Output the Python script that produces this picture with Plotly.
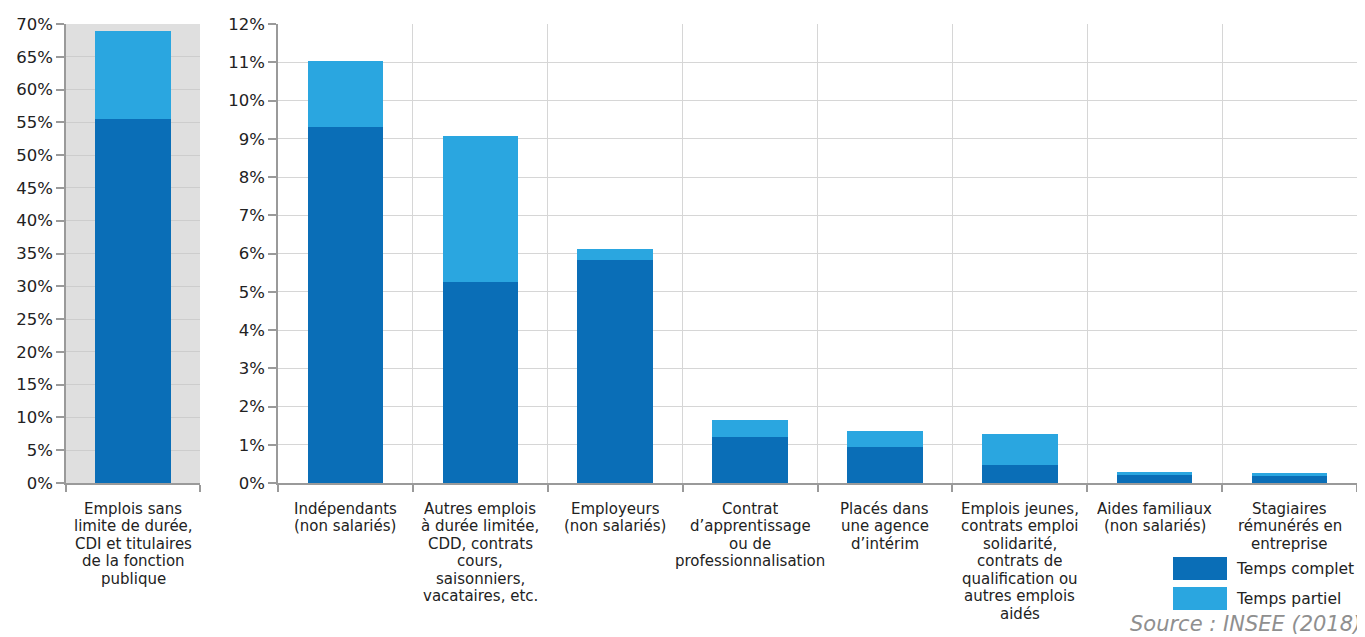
import plotly.graph_objects as go

# ---------------- data (values in %) ----------------
left_categories = ["Emplois sans<br>limite de durée,<br>CDI et titulaires<br>de la fonction<br>publique"]
left_complet = [55.5]
left_partiel = [13.5]

right_categories = [
    "Indépendants<br>(non salariés)",
    "Autres emplois<br>à durée limitée,<br>CDD, contrats<br>cours,<br>saisonniers,<br>vacataires, etc.",
    "Employeurs<br>(non salariés)",
    "Contrat<br>d’apprentissage<br>ou de<br>professionnalisation",
    "Placés dans<br>une agence<br>d’intérim",
    "Emplois jeunes,<br>contrats emploi<br>solidarité,<br>contrats de<br>qualification ou<br>autres emplois<br>aidés",
    "Aides familiaux<br>(non salariés)",
    "Stagiaires<br>rémunérés en<br>entreprise",
]
right_complet = [9.30, 5.26, 5.83, 1.21, 0.95, 0.47, 0.20, 0.19]
right_partiel = [1.74, 3.82, 0.30, 0.44, 0.41, 0.81, 0.08, 0.06]

left_ticks = list(range(0, 71, 5))
right_ticks = list(range(0, 13, 1))
left_ticktext = [f"{v}%" for v in left_ticks]
right_ticktext = [f"{v}%" for v in right_ticks]

series_names = ["Temps complet", "Temps partiel"]
source_text = "Source : INSEE (2018)"

# ---------------- style ----------------
DARK = "#0a6eb7"
LIGHT = "#2aa6e0"
TXT = "#222222"
AXIS = "#9a9a9a"
GRID = "#d6d6d6"
FONT = "DejaVu Sans, Liberation Sans, sans-serif"
OFF = 8                      # page body margin of the viewer
W, H = 1365 - OFF, 637 - OFF


def px(v):
    return v - OFF


TOP_PX, BOT_PX = px(24), px(483)
LEFT_X = (px(66), px(200))
RIGHT_X = (px(278), px(1357))
LINE_H = 17.5

ydom = [(H - BOT_PX) / H, (H - TOP_PX) / H]

fig = go.Figure()
fig.add_trace(go.Bar(x=left_categories, y=left_complet, name=series_names[0], marker_color=DARK,
                     marker_line_width=0, width=0.56, xaxis="x", yaxis="y", showlegend=False))
fig.add_trace(go.Bar(x=left_categories, y=left_partiel, name=series_names[1], marker_color=LIGHT,
                     marker_line_width=0, width=0.56, xaxis="x", yaxis="y", showlegend=False))
fig.add_trace(go.Bar(x=right_categories, y=right_complet, name=series_names[0], marker_color=DARK,
                     marker_line_width=0, width=0.56, xaxis="x2", yaxis="y2", showlegend=False))
fig.add_trace(go.Bar(x=right_categories, y=right_partiel, name=series_names[1], marker_color=LIGHT,
                     marker_line_width=0, width=0.56, xaxis="x2", yaxis="y2", showlegend=False))

common_x = dict(type="category", tickson="boundaries", showgrid=True, gridcolor=GRID, gridwidth=1,
                ticks="outside", ticklen=7, tickcolor=AXIS, tickwidth=1.5, showline=True,
                linecolor=AXIS, linewidth=1.5, showticklabels=False, fixedrange=True,
                automargin=False)
common_y = dict(ticks="outside", ticklen=8, tickcolor=AXIS, tickwidth=1.5, showline=True,
                linecolor=AXIS, linewidth=1.5, zeroline=False, tickmode="array",
                tickfont=dict(family=FONT, size=16.5, color=TXT), domain=ydom, fixedrange=True,
                automargin=False)

fig.update_layout(
    width=W, height=H, margin=dict(l=0, r=0, t=0, b=0, autoexpand=False),
    paper_bgcolor="white", plot_bgcolor="white", barmode="stack",
    font=dict(family=FONT, size=15, color=TXT),
    xaxis=dict(common_x, domain=[LEFT_X[0] / W, LEFT_X[1] / W], anchor="y", gridcolor="#c4c4c4"),
    yaxis=dict(common_y, range=[0, 70], tickvals=left_ticks, ticktext=left_ticktext, anchor="x",
               showgrid=True, gridcolor="#cdcdcd"),
    xaxis2=dict(common_x, domain=[RIGHT_X[0] / W, RIGHT_X[1] / W], anchor="y2"),
    yaxis2=dict(common_y, range=[0, 12], tickvals=right_ticks, ticktext=right_ticktext,
                anchor="x2", showgrid=True, gridcolor=GRID),
    showlegend=False,
)

shapes = [dict(type="rect", xref="x domain", yref="y domain", x0=0, x1=1, y0=0, y1=1,
               fillcolor="#dfdfdf", line_width=0, layer="below")]

annotations = []


def add_labels(cats, xref, yref):
    for c in cats:
        for i, line in enumerate(c.split("<br>")):
            annotations.append(dict(x=c, y=0, xref=xref, yref=yref, text=line, showarrow=False,
                                    xanchor="center", yanchor="middle", height=17,
                                    yshift=-(25 + i * LINE_H),
                                    font=dict(family=FONT, size=15, color=TXT)))


add_labels(left_categories, "x", "y")
add_labels(right_categories, "x2", "y2")

# legend (drawn)
leg = [(series_names[0], DARK, px(557), px(580)), (series_names[1], LIGHT, px(587), px(610))]
for name, col, t, b in leg:
    shapes.append(dict(type="rect", xref="paper", yref="paper", x0=px(1173) / W, x1=px(1227) / W,
                       y0=1 - b / H, y1=1 - t / H, fillcolor=col, line_width=0))
    annotations.append(dict(x=px(1234) / W, y=1 - (t + b) / 2 / H, xref="paper", yref="paper",
                            text=name, showarrow=False, xanchor="left", yanchor="middle",
                            font=dict(family=FONT, size=15.5, color=TXT)))

annotations.append(dict(x=px(1363) / W, y=1 - px(624) / H, xref="paper", yref="paper",
                        text=source_text, showarrow=False, xanchor="right", yanchor="middle",
                        font=dict(family="DejaVu Sans, sans-serif", size=21, color="#8f8f8f",
                                  style="italic")))

fig.update_layout(shapes=shapes, annotations=annotations)
fig.write_html("out.html")
